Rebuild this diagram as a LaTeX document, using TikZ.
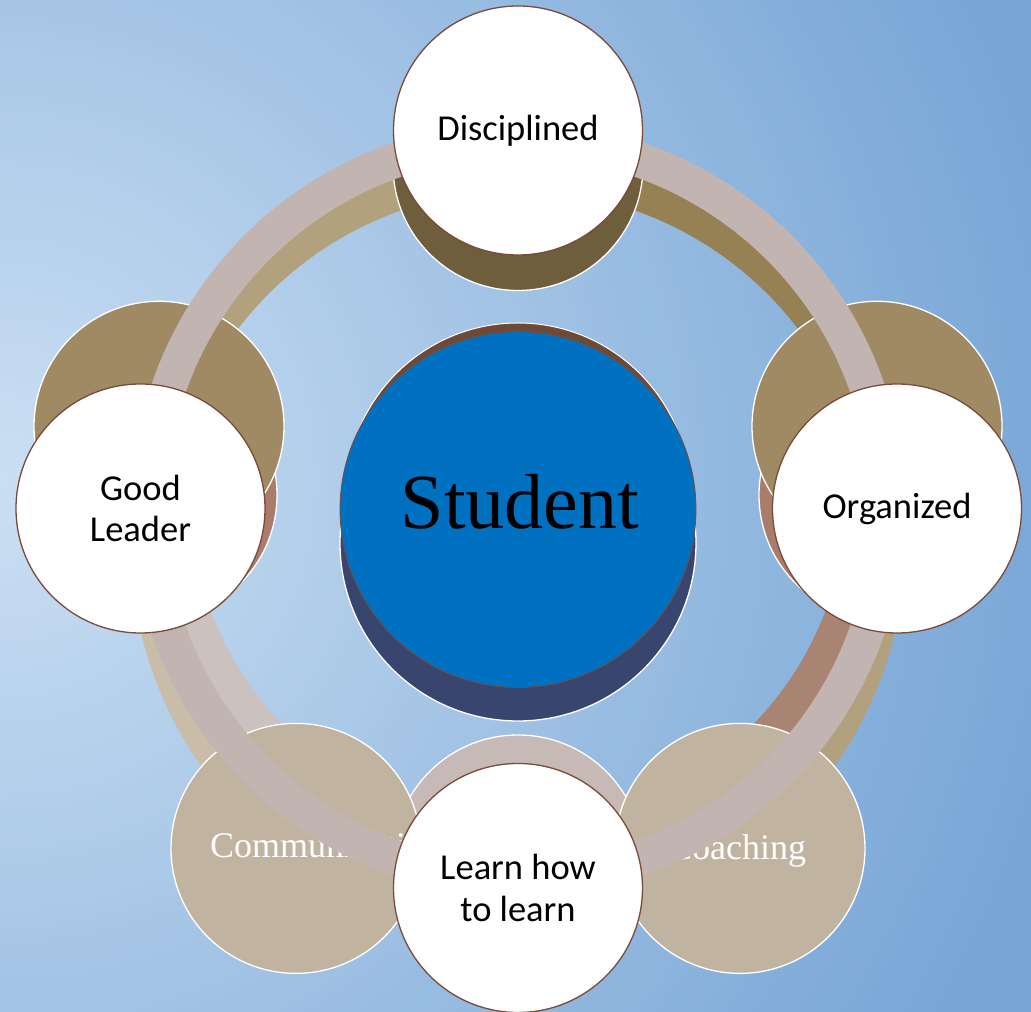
\documentclass[tikz,border=0pt]{standalone}
\usepackage{fontspec}
\newfontfamily\calib{Carlito}
\newfontfamily\tnr{Liberation Serif}
\definecolor{bgIn}{HTML}{CBDFF3}
\definecolor{bgOut}{HTML}{78A6D6}
\definecolor{wborder}{HTML}{7A4A3A}
\definecolor{ringpink}{HTML}{C2B5B1}
\definecolor{tanA}{HTML}{B1A17D}
\definecolor{tanB}{HTML}{958153}
\definecolor{tanC}{HTML}{B2A17E}
\definecolor{tanD}{HTML}{C9BDAA}
\definecolor{tanE}{HTML}{C0B4A0}
\definecolor{thirdL}{HTML}{CBC2BF}
\definecolor{thirdR}{HTML}{A98472}
\definecolor{nodeDark}{HTML}{6E5E3C}
\definecolor{nodeBrown}{HTML}{A08A64}
\definecolor{nodeGray}{HTML}{C0B4A0}
\definecolor{nodePinkBr}{HTML}{A97C6C}
\definecolor{nodePinkGr}{HTML}{C6B9B6}
\definecolor{navy}{HTML}{38456E}
\definecolor{centerBrown}{HTML}{6E4A36}
\definecolor{stblue}{HTML}{0070C0}
\begin{document}
\begin{tikzpicture}[x=1pt,y=1pt,
  wnode/.style={circle, minimum size=249pt, inner sep=0pt, fill=white, draw=wborder, line width=1.3pt,
    font=\calib\fontsize{36.5}{41.5}\selectfont, align=center, text=black},
  bnode/.style={circle, minimum size=250pt, inner sep=0pt, draw=white, line width=1.3pt},
  band/.style={line width=35pt},
  sertext/.style={font=\tnr\fontsize{36}{40}\selectfont, text=white, inner sep=0pt}]
\useasboundingbox (0,0) rectangle (1031,1012);
\clip (0,0) rectangle (1031,1012);
% background: radial gradient from the left middle
\coordinate (bgc) at (0,532);
\foreach \i in {124,123,...,1}{
  \pgfmathtruncatemacro{\p}{min(100,\i*100/108)}
  \fill[bgOut!\p!bgIn] (bgc) circle[radius=\i*10pt];
}

\coordinate (c1) at (518,503);
\coordinate (c2) at (518,469);
\coordinate (c3) at (518,517);

% ---- back layer (third cycle) ----
\draw[band, draw=thirdL] (c3) ++(180:346pt) arc[start angle=180, end angle=270, radius=346pt];
\draw[band, draw=thirdR] (c3) ++(270:346pt) arc[start angle=270, end angle=360, radius=346pt];
\draw[band, draw=thirdR] (c3) ++(0:346pt) arc[start angle=0, end angle=180, radius=346pt];
\node[bnode, fill=nodePinkBr] (t1) at (152,517) {};
\node[bnode, fill=nodePinkBr] (t2) at (884,517) {};
\node[bnode, fill=nodePinkGr] (t3) at (518,152) {};
\node[circle, minimum size=344pt, inner sep=0pt, fill=centerBrown, draw=white, line width=1pt] (tc) at (c3) {};

% ---- middle layer (pentagon cycle) ----
\draw[band, draw=tanA] (c2) ++(90:370pt) arc[start angle=90, end angle=162, radius=370pt];
\draw[band, draw=tanB] (c2) ++(18:370pt) arc[start angle=18, end angle=90, radius=370pt];
\draw[band, draw=tanC] (c2) ++(-54:370pt) arc[start angle=-54, end angle=18, radius=370pt];
\draw[band, draw=tanD] (c2) ++(162:370pt) arc[start angle=162, end angle=234, radius=370pt];
\draw[band, draw=tanE] (c2) ++(234:370pt) arc[start angle=234, end angle=306, radius=370pt];
\node[bnode, fill=nodeDark] (p1) at (518,846.5) {};
\node[bnode, fill=nodeBrown] (p2) at (159,585.7) {};
\node[bnode, fill=nodeBrown] (p3) at (877,585.7) {};
\node[bnode, fill=nodeGray] (p4) at (296,163.6) {};
\node[bnode, fill=nodeGray] (p5) at (740,163.6) {};
\begin{scope}
  \clip (p4.center) circle[radius=125pt];
  \node[sertext, anchor=base west] (commtxt) at (210,154.7) {Communication};
\end{scope}
\node[sertext, anchor=base] (coachtxt) at (737,152) {Coaching};
\node[circle, minimum size=356pt, inner sep=0pt, fill=navy, draw=white, line width=1.3pt] (nv) at (c2) {};

% ---- front layer (main cycle) ----
\draw[band, draw=ringpink] (c1) circle[radius=369.5pt];
\node[wnode] (disc) at (518,881.5) {Disciplined};
\node[wnode] (lead) at (140.5,503.5) {Good\\Leader};
\node[wnode] (org) at (897,503.5) {Organized};
\node[wnode] (learn) at (518,124) {Learn how\\to learn};
\node[circle, minimum size=356pt, inner sep=0pt, fill=stblue, draw=wborder, line width=0.8pt] (stu) at (518,502.5) {};
\node[font=\tnr\fontsize{78}{80}\selectfont, anchor=base, inner sep=0pt, text=black] (studtxt) at (520,483) {Student};
\end{tikzpicture}
\end{document}
